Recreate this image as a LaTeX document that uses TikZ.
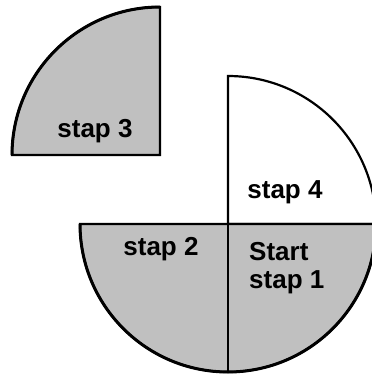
\documentclass[tikz,border=0pt]{standalone}
\usepackage{fontspec}
\setmainfont{Liberation Sans}
\definecolor{segfill}{HTML}{C0C0C0}
\begin{document}
\begin{tikzpicture}[x=1pt,y=1pt,lbl/.style={font=\bfseries\fontsize{26}{30}\selectfont,inner sep=0pt,anchor=base},segment/.style={draw=black,line width=2.2pt,line join=miter},rim/.style={draw=black,line width=3pt}]
\useasboundingbox (0,0) rectangle (372,376);
\clip (0,0) rectangle (372,376);
% stap 3, losse kwart linksboven
\path[segment,fill=segfill] (160,221) -- (160,369) arc[start angle=90,end angle=180,radius=148] -- cycle;
\draw[rim] (160,369) arc[start angle=90,end angle=180,radius=148];
% stap 4, kwart rechtsboven
\path[segment,fill=white] (228,152) -- (228,300) arc[start angle=90,end angle=0,radius=148] -- cycle;
% onderste helft: stap 2 en stap 1
\path[segment,fill=segfill] (80,152) arc[start angle=180,end angle=360,radius=148] -- cycle;
\draw[rim] (80,152) arc[start angle=180,end angle=360,radius=148];
\draw[segment] (228,152) -- (228,4);
\node[lbl] (s3) at (95,238) {stap 3};
\node[lbl] (s4) at (285,178) {stap 4};
\node[lbl] (s2) at (161,121) {stap 2};
\node[lbl,anchor=base west] (st) at (249,116) {Start};
\node[lbl,anchor=base west] (s1) at (249,88) {stap 1};
\end{tikzpicture}
\end{document}
